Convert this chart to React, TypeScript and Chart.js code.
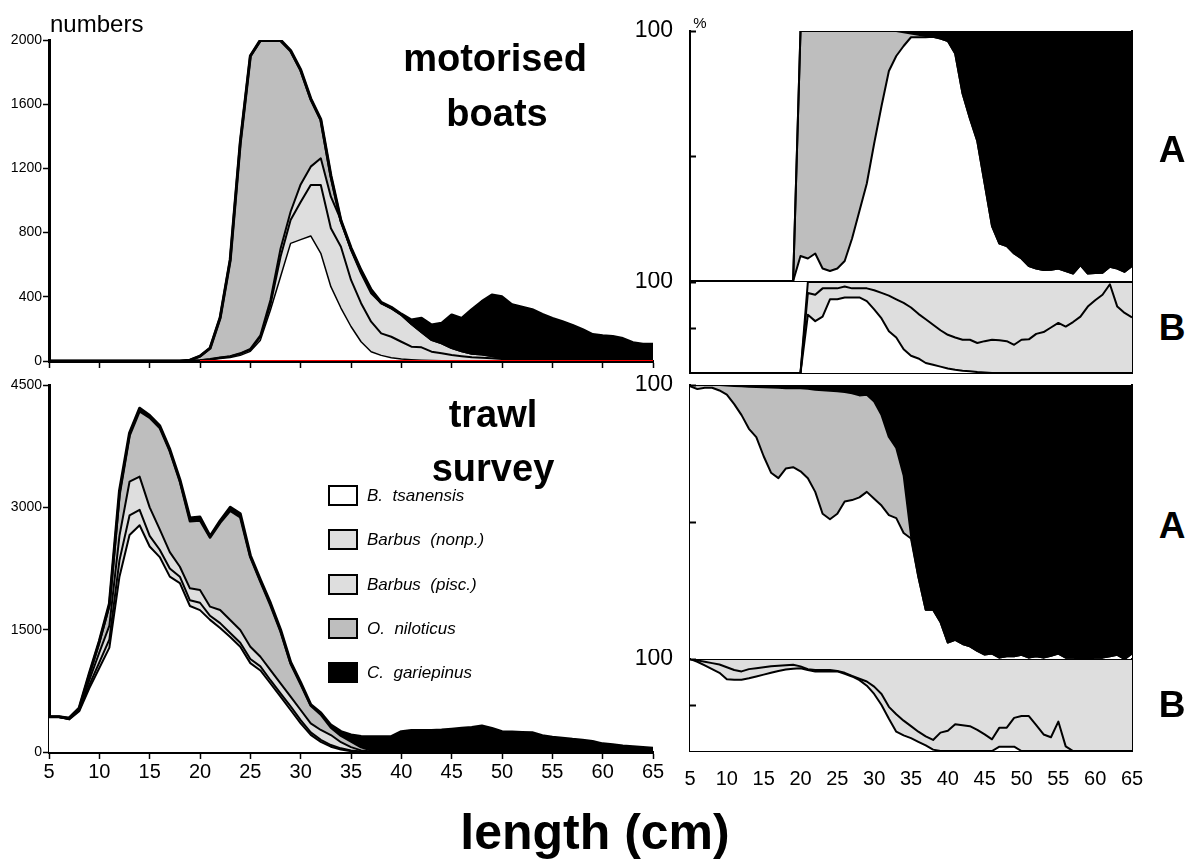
import React, { useEffect, useRef } from 'react';
import { Chart, registerables } from 'chart.js';

Chart.register(...registerables);

const FONT = "'Liberation Sans', Arial, Helvetica, sans-serif";

// ---------- data ----------
const lengthsCm = [5, 6, 7, 8, 9, 10, 11, 12, 13, 14, 15, 16, 17, 18, 19, 20, 21, 22, 23, 24, 25, 26, 27, 28, 29, 30, 31, 32, 33, 34, 35, 36, 37, 38, 39, 40, 41, 42, 43, 44, 45, 46, 47, 48, 49, 50, 51, 52, 53, 54, 55, 56, 57, 58, 59, 60, 61, 62, 63, 64, 65];

const speciesNames = ['B.  tsanensis', 'Barbus  (nonp.)', 'Barbus  (pisc.)', 'O.  niloticus', 'C.  gariepinus'];
const speciesColors = ['#ffffff', '#dedede', '#dedede', '#bebebe', '#000000'];

// motorised boats: cumulative numbers (stack boundaries, bottom to top)
const boatsCumTsanensis = [0, 0, 0, 0, 0, 0, 0, 0, 0, 0, 0, 0, 0, 0, 0, 3, 8, 15, 22, 35, 60, 130, 318, 525, 733, 756, 779, 671, 463, 330, 215, 120, 58, 35, 20, 12, 8, 5, 3, 2, 0, 0, 0, 0, 0, 0, 0, 0, 0, 0, 0, 0, 0, 0, 0, 0, 0, 0, 0, 0, 0];
const boatsCumNonp = [0, 0, 0, 0, 0, 0, 0, 0, 0, 0, 0, 0, 0, 0, 0, 4, 10, 20, 28, 45, 70, 150, 350, 650, 878, 990, 1097, 1097, 827, 712, 505, 360, 245, 172, 151, 120, 89, 85, 58, 48, 37, 30, 23, 20, 17, 12, 5, 2, 0, 0, 0, 0, 0, 0, 0, 0, 0, 0, 0, 0, 0];
const boatsCumPisc = [0, 0, 0, 0, 0, 0, 0, 0, 0, 0, 0, 0, 0, 0, 0, 5, 12, 22, 30, 48, 75, 160, 380, 700, 930, 1100, 1211, 1263, 1024, 878, 692, 546, 422, 360, 328, 287, 230, 180, 131, 110, 80, 60, 45, 40, 30, 17, 8, 3, 0, 0, 0, 0, 0, 0, 0, 0, 0, 0, 0, 0, 0];
const boatsCumNiloticus = [0, 0, 0, 0, 0, 0, 0, 0, 0, 0, 0, 0, 0, 0, 5, 30, 80, 270, 630, 1360, 1900, 1995, 1995, 1995, 1930, 1810, 1630, 1500, 1150, 870, 700, 560, 440, 360, 330, 289, 232, 182, 133, 112, 82, 62, 47, 42, 32, 19, 10, 5, 3, 3, 3, 3, 3, 3, 3, 3, 3, 3, 3, 3, 3];
const boatsTotal = [0, 0, 0, 0, 0, 0, 0, 0, 0, 0, 0, 0, 0, 0, 5, 30, 80, 270, 630, 1360, 1900, 2000, 2000, 2000, 1935, 1815, 1635, 1505, 1155, 875, 705, 565, 445, 365, 335, 292, 255, 266, 224, 235, 287, 266, 320, 370, 411, 400, 350, 335, 320, 290, 265, 245, 222, 195, 165, 158, 153, 140, 114, 105, 104];
const boatsRedLineX = [20, 65];
const boatsRedLineY = [0, 0];

// trawl survey: cumulative numbers
const trawlCumTsanensis = [430, 430, 400, 500, 780, 1030, 1280, 2150, 2660, 2780, 2520, 2390, 2150, 2070, 1790, 1740, 1620, 1520, 1410, 1290, 1090, 1000, 840, 680, 515, 350, 210, 125, 65, 30, 10, 0, 0, 0, 0, 0, 0, 0, 0, 0, 0, 0, 0, 0, 0, 0, 0, 0, 0, 0, 0, 0, 0, 0, 0, 0, 0, 0, 0, 0, 0];
const trawlCumNonp = [430, 430, 405, 510, 820, 1100, 1380, 2350, 2900, 2970, 2650, 2480, 2250, 2150, 1860, 1830, 1670, 1580, 1460, 1340, 1140, 1050, 880, 720, 560, 390, 240, 150, 85, 45, 20, 5, 0, 0, 0, 0, 0, 0, 0, 0, 0, 0, 0, 0, 0, 0, 0, 0, 0, 0, 0, 0, 0, 0, 0, 0, 0, 0, 0, 0, 0];
const trawlCumPisc = [433, 433, 410, 525, 880, 1220, 1550, 2650, 3314, 3376, 3000, 2730, 2450, 2272, 2007, 1986, 1782, 1741, 1618, 1496, 1291, 1168, 1005, 842, 678, 515, 352, 270, 208, 120, 60, 20, 5, 0, 0, 0, 0, 0, 0, 0, 0, 0, 0, 0, 0, 0, 0, 0, 0, 0, 0, 0, 0, 0, 0, 0, 0, 0, 0, 0, 0];
const trawlCumNiloticus = [433, 433, 415, 536, 950, 1350, 1800, 3150, 3880, 4180, 4100, 3975, 3690, 3320, 2830, 2840, 2630, 2810, 2960, 2880, 2390, 2090, 1800, 1480, 1087, 830, 570, 460, 300, 200, 130, 60, 20, 5, 0, 0, 0, 0, 0, 0, 0, 0, 0, 0, 0, 0, 0, 0, 0, 0, 0, 0, 0, 0, 0, 0, 0, 0, 0, 0, 0];
const trawlTotal = [433, 433, 415, 540, 960, 1360, 1820, 3200, 3910, 4215, 4125, 4000, 3710, 3340, 2870, 2880, 2645, 2835, 3000, 2920, 2410, 2110, 1825, 1500, 1100, 850, 580, 480, 330, 250, 208, 190, 188, 188, 190, 249, 265, 265, 265, 270, 280, 292, 300, 319, 290, 249, 245, 240, 237, 200, 180, 168, 155, 145, 130, 100, 88, 75, 65, 55, 45];

// motorised boats, % (A: Barbus / O. niloticus / C. gariepinus)
const boatsShareBarbus = [0, 0, 0, 0, 0, 0, 0, 0, 0, 0, 0, 0, 0, 0, 0, 10, 9, 11, 5, 4, 5, 8, 17, 28, 39, 55, 70, 84, 90, 94, 97.5, 97.5, 97.5, 97.7, 97, 96, 91, 75, 65, 56, 39, 22, 15, 14, 11, 9, 6, 5, 4.4, 4.5, 5, 4, 3, 6.4, 3, 3.2, 3.3, 5.7, 5, 3.7, 6];
const boatsShareCumNiloticus = [0, 0, 0, 0, 0, 0, 0, 0, 0, 0, 0, 0, 0, 0, 0, 100, 100, 100, 100, 100, 100, 100, 100, 100, 100, 100, 100, 100, 100, 99.5, 99, 98.5, 98, 97.7, 97, 96, 91, 75, 65, 56, 39, 22, 15, 14, 11, 9, 6, 5, 4.4, 4.5, 5, 4, 3, 6.4, 3, 3.2, 3.3, 5.7, 5, 3.7, 6];
const boatsShareTotal = [0, 0, 0, 0, 0, 0, 0, 0, 0, 0, 0, 0, 0, 0, 0, 100, 100, 100, 100, 100, 100, 100, 100, 100, 100, 100, 100, 100, 100, 100, 100, 100, 100, 100, 100, 100, 100, 100, 100, 100, 100, 100, 100, 100, 100, 100, 100, 100, 100, 100, 100, 100, 100, 100, 100, 100, 100, 100, 100, 100, 100];

// motorised boats, % of Barbus (B)
const boatsBarbusShareTsanensis = [0, 0, 0, 0, 0, 0, 0, 0, 0, 0, 0, 0, 0, 0, 0, 0, 64, 57, 62, 81, 81, 83, 83, 83, 79, 70, 60, 46, 39, 26, 19, 16, 11, 9, 7, 5, 3.5, 2.6, 2, 1, 0.5, 0, 0, 0, 0, 0, 0, 0, 0, 0, 0, 0, 0, 0, 0, 0, 0, 0, 0, 0, 0];
const boatsBarbusShareCumNonp = [0, 0, 0, 0, 0, 0, 0, 0, 0, 0, 0, 0, 0, 0, 0, 0, 88, 86, 93, 93, 93, 95, 93, 93, 93, 91, 88, 85, 81, 77, 72, 65, 59, 53, 47, 42, 39, 36.5, 36.5, 33, 35, 36.5, 36, 35, 31, 36.5, 37, 43, 45, 50, 55, 51, 56, 62, 73, 80, 86, 97.5, 73, 66, 61];
const boatsBarbusShareTotal = [0, 0, 0, 0, 0, 0, 0, 0, 0, 0, 0, 0, 0, 0, 0, 0, 100, 100, 100, 100, 100, 100, 100, 100, 100, 100, 100, 100, 100, 100, 100, 100, 100, 100, 100, 100, 100, 100, 100, 100, 100, 100, 100, 100, 100, 100, 100, 100, 100, 100, 100, 100, 100, 100, 100, 100, 100, 100, 100, 100, 100];

// trawl survey, % (A)
const trawlShareBarbus = [99.6, 98.5, 99, 99, 98, 96.5, 93, 89, 84, 81, 74, 68, 66, 69.5, 70, 68.5, 66, 61, 53, 51, 53, 57.5, 58, 59, 61, 58.5, 56, 52.5, 51.4, 46, 44, 30, 18, 18, 13.5, 6, 7, 5.5, 4.6, 3, 1.6, 2, 0.5, 1, 1, 1.5, 0.5, 1, 0.5, 1.2, 2, 0.5, 0.5, 0, 0, 0.5, 0.5, 1, 1.5, 0, 2];
const trawlShareCumNiloticus = [100, 100, 100, 100, 100, 99.8, 99.6, 99.5, 99.4, 99.3, 99.2, 99.1, 99, 98.8, 98.8, 98.8, 98.6, 98.3, 98.1, 97.9, 97.7, 97.4, 97, 96.2, 96.4, 94, 89, 81, 77, 67, 45, 30, 18, 18, 13.5, 6, 7, 5.5, 4.6, 3, 1.6, 2, 0.5, 1, 1, 1.5, 0.5, 1, 0.5, 1.2, 2, 0.5, 0.5, 0, 0, 0.5, 0.5, 1, 1.5, 0, 2];
const trawlShareTotal = [100, 100, 100, 100, 100, 100, 100, 100, 100, 100, 100, 100, 100, 100, 100, 100, 100, 100, 100, 100, 100, 100, 100, 100, 100, 100, 100, 100, 100, 100, 100, 100, 100, 100, 100, 100, 100, 100, 100, 100, 100, 100, 100, 100, 100, 100, 100, 100, 100, 100, 100, 100, 100, 100, 100, 100, 100, 100, 100, 100, 100];

// trawl survey, % of Barbus (B)
const trawlBarbusShareTsanensis = [100, 97, 93, 89, 85, 78, 77.5, 77.4, 79, 81, 83, 85, 87, 88.5, 89.5, 90, 88, 86.5, 86.5, 86.5, 86.5, 84, 81, 77, 71, 62, 50, 35, 21, 17, 14, 10, 6, 1.5, 0, 0, 0, 0, 0, 0, 0, 0, 4.7, 4.7, 4.7, 0, 0, 0, 0, 0, 0, 0, 0, 0, 0, 0, 0, 0, 0, 0, 0];
const trawlBarbusShareCumNonp = [100, 98.5, 97, 95.5, 94, 91, 88, 86.5, 89, 90, 91, 92, 92.7, 93.3, 93.8, 92, 89, 88, 88, 88, 87, 85, 81.5, 78.5, 75.6, 70, 62, 48, 40, 33, 27, 21, 16, 12, 20, 22, 29, 28, 27, 23, 18, 12.7, 25.4, 25.4, 36, 38, 38, 28, 18, 15, 32, 5, 0, 0, 0, 0, 0, 0, 0, 0, 0];
const trawlBarbusShareTotal = [100, 100, 100, 100, 100, 100, 100, 100, 100, 100, 100, 100, 100, 100, 100, 100, 100, 100, 100, 100, 100, 100, 100, 100, 100, 100, 100, 100, 100, 100, 100, 100, 100, 100, 100, 100, 100, 100, 100, 100, 100, 100, 100, 100, 100, 100, 100, 100, 100, 100, 100, 100, 100, 100, 100, 100, 100, 100, 100, 100, 100];

const xTickStep = 5;
const numbersTopTicks = { max: 2000, step: 400 };
const numbersBottomTicks = { max: 4500, step: 1500 };
const percentTicks = { max: 100, step: 50, labelled: 100 };

// ---------- helpers ----------
type Layer = { values: number[]; color: string; width: number; label: string };

function buildLayers(layers: Layer[]) {
  return layers.map((layer, i) => ({
    label: layer.label,
    data: lengthsCm.map((x, j) => ({ x, y: layer.values[j] })),
    borderColor: '#000',
    borderWidth: layer.width,
    backgroundColor: layer.color,
    fill: i === 0 ? 'origin' : '-1',
    pointRadius: 0,
    pointHoverRadius: 0,
    tension: 0,
    borderJoinStyle: 'round' as const,
  }));
}

const fixWidth = (w: number) => (s: any) => {
  s.width = w;
  s.paddingTop = 0; s.paddingBottom = 0; s.paddingLeft = 0; s.paddingRight = 0;
};
const fixHeight = (h: number) => (s: any) => {
  s.height = h;
  s.paddingTop = 0; s.paddingBottom = 0; s.paddingLeft = 0; s.paddingRight = 0;
};

const innerTicks = {
  id: 'innerTicks',
  afterDraw(chart: any, _args: any, opts: any) {
    if (!opts || !opts.values) return;
    const { ctx, chartArea, scales } = chart;
    ctx.save();
    ctx.strokeStyle = '#000';
    ctx.lineWidth = 2;
    for (const v of opts.values) {
      const py = Math.round(scales.y.getPixelForValue(v)) + 0.5;
      ctx.beginPath();
      ctx.moveTo(chartArea.left, py);
      ctx.lineTo(chartArea.left + 6, py);
      ctx.stroke();
    }
    ctx.restore();
  },
};

function numbersConfig(layers: Layer[], yMax: number, yStep: number, opts: { padTop: number; xHeight: number; showX: boolean; extra?: any[] }) {
  const datasets: any[] = buildLayers(layers);
  if (opts.extra) datasets.unshift(...opts.extra);
  return {
    type: 'line',
    data: { datasets },
    options: {
      responsive: false,
      animation: false,
      events: [],
      layout: { padding: { top: opts.padTop, right: 17, left: 0, bottom: 0 } },
      plugins: { legend: { display: false }, tooltip: { enabled: false }, filler: { drawTime: 'beforeDatasetsDraw' } },
      scales: {
        x: {
          type: 'linear', min: 5, max: 65,
          ticks: { stepSize: xTickStep, display: opts.showX, color: '#000', font: { family: FONT, size: 20 }, padding: 1, maxRotation: 0, autoSkip: false, callback: (v: any) => String(v) },
          grid: { display: true, drawOnChartArea: false, drawTicks: true, tickLength: 7, tickWidth: 1.5, tickColor: '#000' },
          border: { display: true, color: '#000', width: 3 },
          afterFit: fixHeight(opts.xHeight),
        },
        y: {
          type: 'linear', min: 0, max: yMax,
          ticks: { stepSize: yStep, color: '#000', font: { family: FONT, size: 14 }, padding: 1, callback: (v: any) => String(v) },
          grid: { display: true, drawOnChartArea: false, drawTicks: true, tickLength: 6, tickWidth: 1.5, tickColor: '#000' },
          border: { display: true, color: '#000', width: 3 },
          afterFit: fixWidth(49),
        },
      },
    },
  };
}

function percentConfig(layers: Layer[], opts: { padTop: number; xHeight: number; showX: boolean }) {
  return {
    type: 'line',
    data: { datasets: buildLayers(layers) },
    plugins: [innerTicks],
    options: {
      responsive: false,
      animation: false,
      events: [],
      layout: { padding: { top: opts.padTop, right: 18, left: 0, bottom: 0 } },
      plugins: {
        legend: { display: false }, tooltip: { enabled: false },
        filler: { drawTime: 'beforeDatasetsDraw' },
        innerTicks: { values: [percentTicks.step, percentTicks.max] },
      },
      scales: {
        x: {
          type: 'linear', min: 5, max: 65,
          ticks: { stepSize: xTickStep, display: opts.showX, color: '#000', font: { family: FONT, size: 20 }, padding: 8, maxRotation: 0, autoSkip: false, callback: (v: any) => String(v) },
          grid: { display: false },
          border: { display: true, color: '#000', width: 2 },
          afterFit: fixHeight(opts.xHeight),
        },
        y: {
          type: 'linear', min: 0, max: percentTicks.max,
          ticks: { stepSize: percentTicks.step, color: '#000', font: { family: FONT, size: 23 }, padding: 9, callback: (v: any) => (v === percentTicks.labelled ? String(v) : '') },
          grid: { display: false },
          border: { display: true, color: '#000', width: 2 },
          afterFit: fixWidth(60),
        },
        yr: {
          type: 'linear', position: 'right', min: 0, max: 1,
          ticks: { display: false },
          grid: { display: false },
          border: { display: true, color: '#000', width: 2 },
          afterFit: fixWidth(0),
        },
      },
    },
  };
}

function ChartBox({ left, top, width, height, make }: { left: number; top: number; width: number; height: number; make: () => any }) {
  const ref = useRef<HTMLCanvasElement>(null);
  useEffect(() => {
    const chart = new Chart(ref.current as HTMLCanvasElement, make());
    return () => chart.destroy();
  }, []);
  return <canvas ref={ref} width={width} height={height} style={{ position: 'absolute', left, top, width, height }} />;
}

function Txt({ x, y, size, bold, italic, anchor, children }: { x: number; y: number; size: number; bold?: boolean; italic?: boolean; anchor?: 'left' | 'center'; children: React.ReactNode }) {
  return (
    <div
      style={{
        position: 'absolute', left: x, top: y,
        transform: anchor === 'left' ? 'translate(0,-50%)' : 'translate(-50%,-50%)',
        fontFamily: FONT, fontSize: size, fontWeight: bold ? 700 : 400, fontStyle: italic ? 'italic' : 'normal',
        lineHeight: 1, whiteSpace: 'pre', color: '#000',
      }}
    >
      {children}
    </div>
  );
}

export default function App() {
  const boatsLayers: Layer[] = [
    { values: boatsCumTsanensis, color: speciesColors[0], width: 1.5, label: speciesNames[0] },
    { values: boatsCumNonp, color: speciesColors[1], width: 2, label: speciesNames[1] },
    { values: boatsCumPisc, color: speciesColors[2], width: 2, label: speciesNames[2] },
    { values: boatsCumNiloticus, color: speciesColors[3], width: 2.5, label: speciesNames[3] },
    { values: boatsTotal, color: speciesColors[4], width: 3, label: speciesNames[4] },
  ];
  const trawlLayers: Layer[] = [
    { values: trawlCumTsanensis, color: speciesColors[0], width: 2, label: speciesNames[0] },
    { values: trawlCumNonp, color: speciesColors[1], width: 2, label: speciesNames[1] },
    { values: trawlCumPisc, color: speciesColors[2], width: 2, label: speciesNames[2] },
    { values: trawlCumNiloticus, color: speciesColors[3], width: 2.5, label: speciesNames[3] },
    { values: trawlTotal, color: speciesColors[4], width: 3, label: speciesNames[4] },
  ];
  const redLine = {
    label: 'baseline',
    data: boatsRedLineX.map((x, i) => ({ x, y: boatsRedLineY[i] })),
    borderColor: '#ff0000',
    borderWidth: 2,
    pointRadius: 0,
    fill: false,
  };

  const legendRows = speciesNames.map((n, i) => ({ name: n, color: speciesColors[i], y: 495 + i * 44.3 }));

  return (
    <div style={{ position: 'absolute', left: 0, top: 0, width: 1190, height: 860, background: '#fff', overflow: 'hidden' }}>
      <ChartBox left={0} top={25} width={670} height={350} make={() => numbersConfig(boatsLayers, numbersTopTicks.max, numbersTopTicks.step, { padTop: 15, xHeight: 14, showX: false, extra: [redLine] })} />
      <ChartBox left={0} top={375} width={670} height={410} make={() => numbersConfig(trawlLayers, numbersBottomTicks.max, numbersBottomTicks.step, { padTop: 10, xHeight: 33, showX: true })} />

      <ChartBox left={630} top={16} width={520} height={267} make={() => percentConfig([
        { values: boatsShareBarbus, color: '#ffffff', width: 2, label: 'Barbus' },
        { values: boatsShareCumNiloticus, color: speciesColors[3], width: 2, label: speciesNames[3] },
        { values: boatsShareTotal, color: speciesColors[4], width: 2, label: speciesNames[4] },
      ], { padTop: 15, xHeight: 2, showX: false })} />
      <ChartBox left={630} top={272} width={520} height={103} make={() => percentConfig([
        { values: boatsBarbusShareTsanensis, color: speciesColors[0], width: 2, label: speciesNames[0] },
        { values: boatsBarbusShareCumNonp, color: speciesColors[1], width: 2, label: speciesNames[1] },
        { values: boatsBarbusShareTotal, color: speciesColors[2], width: 2, label: speciesNames[2] },
      ], { padTop: 10, xHeight: 2, showX: false })} />
      <ChartBox left={630} top={375} width={520} height={286} make={() => percentConfig([
        { values: trawlShareBarbus, color: '#ffffff', width: 2, label: 'Barbus' },
        { values: trawlShareCumNiloticus, color: speciesColors[3], width: 2, label: speciesNames[3] },
        { values: trawlShareTotal, color: speciesColors[4], width: 2, label: speciesNames[4] },
      ], { padTop: 10, xHeight: 2, showX: false })} />
      <ChartBox left={630} top={649} width={520} height={136} make={() => percentConfig([
        { values: trawlBarbusShareTsanensis, color: speciesColors[0], width: 2, label: speciesNames[0] },
        { values: trawlBarbusShareCumNonp, color: speciesColors[1], width: 2, label: speciesNames[1] },
        { values: trawlBarbusShareTotal, color: speciesColors[2], width: 2, label: speciesNames[2] },
      ], { padTop: 10, xHeight: 34, showX: true })} />

      <Txt x={50} y={24} size={24} anchor="left">numbers</Txt>
      <Txt x={700} y={22} size={15}>%</Txt>

      <Txt x={495} y={58} size={38} bold>motorised</Txt>
      <Txt x={497} y={113} size={38} bold>boats</Txt>
      <Txt x={493} y={414} size={38} bold>trawl</Txt>
      <Txt x={493} y={468} size={38} bold>survey</Txt>

      <Txt x={1172} y={149} size={37} bold>A</Txt>
      <Txt x={1172} y={327} size={37} bold>B</Txt>
      <Txt x={1172} y={525} size={37} bold>A</Txt>
      <Txt x={1172} y={704} size={37} bold>B</Txt>

      <Txt x={595} y={832} size={50} bold>length (cm)</Txt>

      {legendRows.map((r) => (
        <React.Fragment key={r.name}>
          <div style={{ position: 'absolute', left: 328, top: r.y - 10, width: 26, height: 17, background: r.color, border: '2px solid #000' }} />
          <Txt x={367} y={r.y} size={17} italic anchor="left">{r.name}</Txt>
        </React.Fragment>
      ))}
    </div>
  );
}
